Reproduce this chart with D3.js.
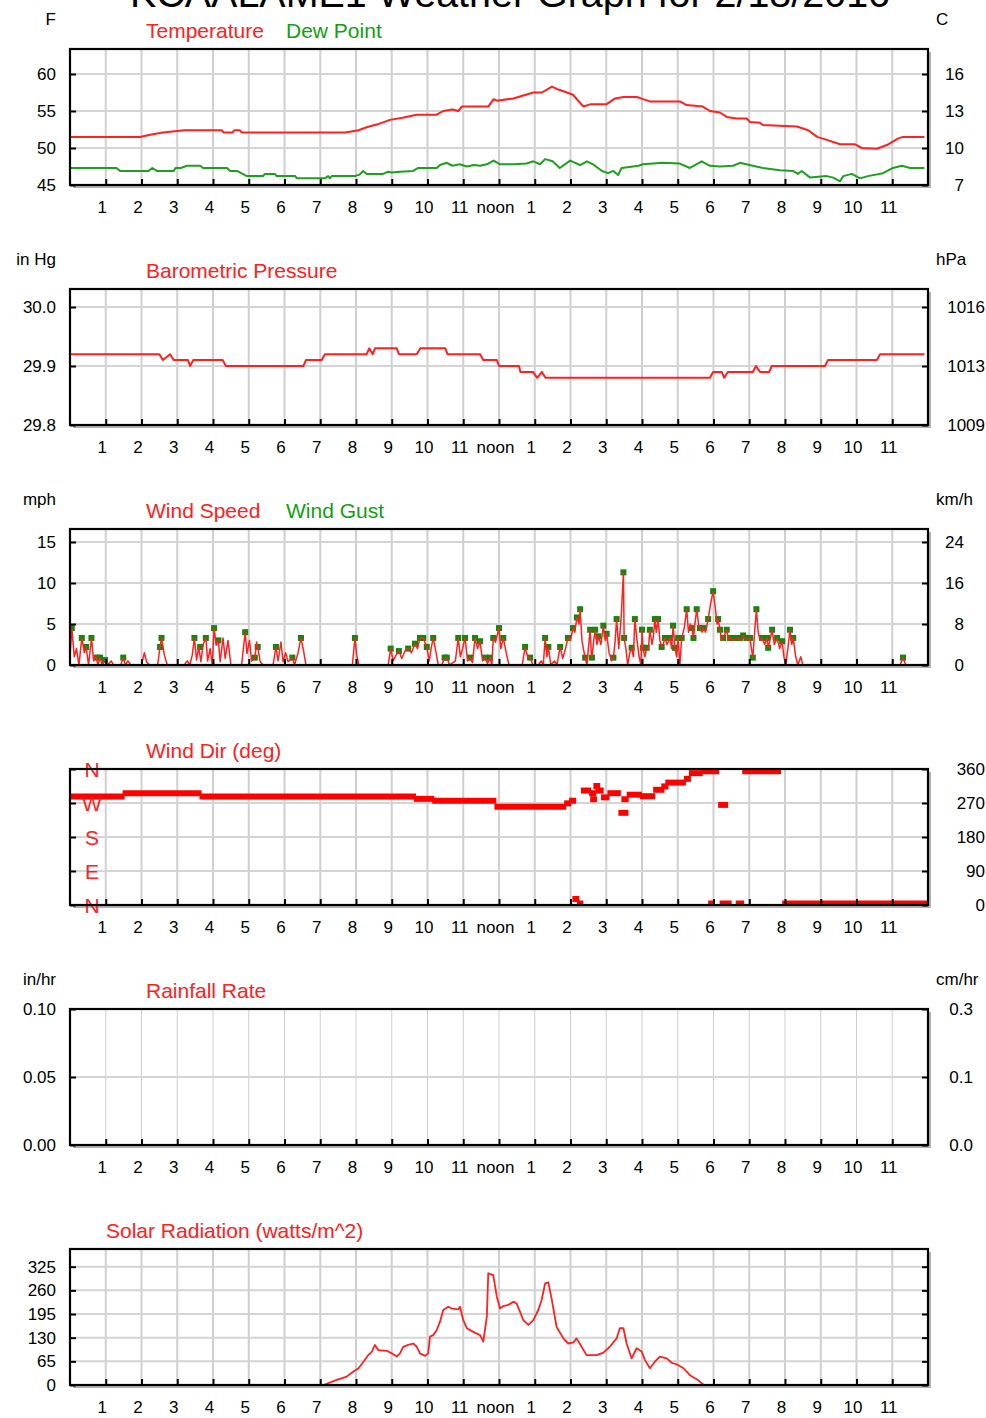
<!DOCTYPE html>
<html>
<head>
<meta charset="utf-8">
<script src="https://cdnjs.cloudflare.com/ajax/libs/d3/7.8.5/d3.min.js"></script>
<style>
body{margin:0;background:#fff}
text{font-family:"Liberation Sans",Arial,sans-serif}
</style>
</head>
<body>
<script>
// hour of day, value pairs
var tempF = [[0,51.5],[1.96,51.5],[2.24,51.8],[2.6,52.1],[3.2,52.4],[4.24,52.4],[4.3,52.1],[4.55,52.1],[4.6,52.4],[4.75,52.4],[4.8,52.1],[7.7,52.1],[8.07,52.4],[8.3,52.8],[8.6,53.2],[8.95,53.8],[9.3,54.1],[9.7,54.5],[10.26,54.5],[10.44,55.0],[10.7,55.2],[10.86,55.0],[10.96,55.6],[11.7,55.6],[11.85,56.6],[11.95,56.4],[12.4,56.7],[12.96,57.5],[13.2,57.5],[13.48,58.3],[13.66,57.9],[13.9,57.5],[14.07,57.2],[14.36,55.6],[14.55,55.9],[15.0,55.9],[15.25,56.7],[15.48,56.9],[15.86,56.9],[16.03,56.6],[16.22,56.3],[17.06,56.3],[17.25,55.8],[17.7,55.6],[17.9,55.0],[18.18,54.8],[18.37,54.2],[18.65,54.0],[18.93,54.0],[19.02,53.5],[19.3,53.4],[19.38,53.1],[20.33,52.9],[20.65,52.4],[20.9,51.5],[21.17,51.1],[21.54,50.5],[21.96,50.5],[22.15,50.0],[22.57,49.9],[22.85,50.4],[23.17,51.3],[23.3,51.5],[23.9,51.5]];

var dewF = [[0,47.3],[1.3,47.3],[1.4,46.9],[2.2,46.9],[2.3,47.3],[2.43,46.9],[2.9,46.9],[2.95,47.3],[3.1,47.3],[3.27,47.6],[3.64,47.6],[3.72,47.3],[4.39,47.3],[4.48,46.9],[4.67,46.9],[4.95,46.2],[5.4,46.2],[5.45,46.5],[5.73,46.5],[5.78,46.2],[6.3,46.2],[6.35,45.9],[7.13,45.9],[7.22,46.2],[7.27,45.9],[7.32,46.2],[7.97,46.2],[8.1,46.4],[8.2,46.9],[8.3,46.5],[8.76,46.5],[8.9,46.8],[9.0,46.7],[9.23,46.8],[9.6,46.9],[9.74,47.3],[10.26,47.3],[10.35,47.7],[10.54,48.0],[10.7,47.6],[10.9,47.8],[11.1,47.5],[11.3,47.7],[11.47,47.6],[11.66,47.8],[11.85,48.3],[12.03,47.8],[12.4,47.8],[12.77,47.9],[12.96,48.2],[13.15,47.8],[13.29,48.5],[13.5,48.2],[13.7,47.3],[13.99,48.3],[14.27,47.7],[14.46,48.2],[14.63,47.8],[14.88,46.9],[15.05,46.6],[15.2,46.9],[15.33,46.35],[15.43,47.3],[15.75,47.5],[15.9,47.6],[16.03,47.8],[16.59,48.0],[17.06,47.9],[17.34,47.3],[17.67,48.2],[17.9,47.6],[18.18,47.5],[18.55,47.6],[18.74,48.0],[19.1,47.6],[19.38,47.3],[19.86,47.0],[20.22,46.9],[20.36,46.5],[20.47,46.9],[20.7,46.0],[21.17,46.2],[21.35,46.0],[21.54,45.5],[21.63,46.2],[21.87,46.5],[22.1,45.9],[22.32,46.2],[22.74,46.6],[23.02,47.3],[23.27,47.6],[23.5,47.3],[23.9,47.3]];

var pressureIn = [[0,29.92],[2.5,29.92],[2.6,29.91],[2.8,29.92],[2.9,29.91],[3.3,29.91],[3.36,29.90],[3.45,29.91],[4.27,29.91],[4.36,29.90],[6.53,29.90],[6.6,29.91],[7.04,29.91],[7.13,29.92],[8.3,29.92],[8.37,29.93],[8.47,29.92],[8.53,29.93],[9.14,29.93],[9.2,29.92],[9.7,29.92],[9.8,29.93],[10.5,29.93],[10.56,29.92],[11.47,29.92],[11.56,29.91],[11.94,29.91],[12.0,29.90],[12.56,29.90],[12.6,29.89],[12.95,29.89],[13.07,29.88],[13.2,29.89],[13.3,29.88],[17.9,29.88],[17.99,29.89],[18.23,29.89],[18.3,29.88],[18.4,29.89],[19.1,29.89],[19.19,29.90],[19.3,29.89],[19.56,29.89],[19.63,29.90],[21.12,29.90],[21.2,29.91],[22.57,29.91],[22.66,29.92],[23.9,29.92]];

var windSpeed = [[0,1.0],[0.05,4.5],[0.12,1.0],[0.18,2.0],[0.25,0],[0.33,3.3],[0.4,1.5],[0.45,2.2],[0.52,0],[0.6,3.3],[0.66,0.5],[0.72,1.2],[0.78,0],[0.84,0.9],[0.9,0],[0.98,0.6],[1.05,0],[1.15,0.5],[1.22,0],
 [1.42,0],[1.49,0.9],[1.55,0],[1.62,0.5],[1.7,0],[2.0,0],[2.08,1.5],[2.14,0.4],[2.22,0],[2.45,0],[2.52,2.2],[2.56,3.3],[2.64,1.2],[2.72,0],
 [3.2,0],[3.28,0.5],[3.35,0],[3.42,1.2],[3.48,3.3],[3.54,0.6],[3.6,2.2],[3.66,0.4],[3.73,2.6],[3.8,3.3],[3.85,0.5],[3.92,2.0],[3.98,0],[4.03,4.5],[4.09,2.4],[4.15,3.0],[4.2,0.4],[4.28,3.3],[4.34,0.8],[4.42,3.0],[4.5,0],
 [4.8,0],[4.9,4.0],[4.95,1.4],[5.02,3.0],[5.08,0.5],[5.17,0.9],[5.22,2.8],[5.25,2.2],[5.32,0.4],[5.4,0],
 [5.68,0],[5.76,2.2],[5.82,0.5],[5.9,2.8],[5.96,0.4],[6.03,1.5],[6.1,0.4],[6.22,0.9],[6.28,0],[6.38,1.5],[6.46,3.3],[6.53,1.8],[6.6,0],
 [7.9,0],[7.97,3.3],[8.02,1.2],[8.08,0],
 [8.9,0],[8.97,2.0],[9.04,0.5],[9.12,1.2],[9.2,1.7],[9.28,0.8],[9.38,1.8],[9.46,2.0],[9.55,1.5],[9.65,2.6],[9.72,2.0],[9.79,3.3],[9.88,3.3],[9.98,2.2],[10.05,0.5],[10.1,2.0],[10.16,3.3],[10.24,1.5],[10.3,0],[10.4,0],[10.48,0.9],[10.54,0.9],[10.62,0],[10.78,0.5],[10.86,3.3],[10.92,1.0],[10.98,2.0],[11.05,3.3],[11.12,0.5],[11.19,0.9],[11.26,0.3],[11.33,3.3],[11.4,2.0],[11.47,2.9],[11.54,0.5],[11.61,0.9],[11.68,0.2],[11.75,0.9],[11.8,0],[11.84,3.3],[11.9,2.8],[12.0,4.5],[12.05,2.0],[12.12,3.3],[12.2,1.5],[12.28,0],
 [12.65,0],[12.73,2.2],[12.8,1.0],[12.87,0.9],[12.95,0],[13.1,0],[13.18,0.5],[13.24,0],[13.29,3.3],[13.34,1.0],[13.38,2.2],[13.45,0],[13.55,0.5],[13.62,0],[13.71,2.2],[13.78,0.8],[13.86,2.0],[13.93,3.3],[14.0,3.0],[14.07,4.5],[14.12,4.0],[14.18,5.8],[14.24,5.0],[14.27,6.8],[14.32,3.0],[14.36,2.0],[14.41,0.9],[14.46,0],[14.5,2.0],[14.55,4.3],[14.58,1.5],[14.6,0.9],[14.65,3.0],[14.69,4.3],[14.74,2.5],[14.78,3.5],[14.85,2.5],[14.92,4.8],[14.97,3.0],[15.01,3.8],[15.08,1.5],[15.15,0.5],[15.2,0.9],[15.25,3.0],[15.29,5.6],[15.35,2.0],[15.42,6.0],[15.48,11.3],[15.5,3.3],[15.55,2.0],[15.6,0],[15.66,1.5],[15.71,2.1],[15.76,1.0],[15.8,5.6],[15.86,3.0],[15.92,1.0],[15.97,0],[16.0,4.3],[16.03,2.1],[16.08,1.0],[16.13,2.1],[16.18,2.0],[16.22,4.3],[16.28,2.5],[16.32,3.5],[16.36,5.6],[16.4,4.0],[16.45,5.6],[16.5,3.0],[16.55,2.2],[16.6,2.6],[16.64,3.3],[16.7,2.5],[16.78,3.3],[16.83,2.0],[16.87,4.8],[16.92,2.1],[16.97,1.0],[17.01,3.3],[17.06,0],[17.11,3.3],[17.18,4.5],[17.25,6.8],[17.3,4.0],[17.35,5.0],[17.4,4.5],[17.44,3.3],[17.48,5.0],[17.53,6.8],[17.58,5.0],[17.62,4.5],[17.68,4.0],[17.71,4.5],[17.78,4.0],[17.85,5.6],[17.92,7.5],[17.99,9.0],[18.05,7.0],[18.1,5.0],[18.13,5.6],[18.18,4.3],[18.23,3.0],[18.27,3.3],[18.32,3.8],[18.37,4.3],[18.42,3.0],[18.46,3.3],[18.55,3.0],[18.65,3.3],[18.75,3.0],[18.83,3.6],[18.92,3.0],[19.02,3.3],[19.06,2.0],[19.1,0.9],[19.15,4.0],[19.2,6.8],[19.25,4.0],[19.3,3.0],[19.36,3.3],[19.43,2.5],[19.5,3.3],[19.53,2.1],[19.58,3.0],[19.64,4.3],[19.7,2.5],[19.78,3.3],[19.85,2.0],[19.92,2.9],[19.97,1.0],[20.02,0],[20.08,2.0],[20.14,4.3],[20.19,2.5],[20.23,3.3],[20.3,1.0],[20.36,0],[20.44,1.0],[20.5,0],
 [23.22,0],[23.3,0.9],[23.38,0],[24,0]];

var windGust = [[0.05,4.5],[0.33,3.3],[0.45,2.2],[0.6,3.3],[0.75,0.9],[0.84,0.9],[0.98,0.6],[1.49,0.9],[2.52,2.2],[2.56,3.3],[3.48,3.3],[3.64,2.2],[3.8,3.3],[4.03,4.5],[4.15,3.0],[4.9,4.0],[5.17,0.9],[5.25,2.2],[5.76,2.2],[6.22,0.9],[6.46,3.3],[7.97,3.3],[8.97,2.0],[9.2,1.7],[9.46,2.0],[9.65,2.6],[9.79,3.3],[9.88,3.3],[9.98,2.2],[10.16,3.3],[10.48,0.9],[10.54,0.9],[10.86,3.3],[11.05,3.3],[11.19,0.9],[11.33,3.3],[11.47,2.9],[11.61,0.9],[11.75,0.9],[11.84,3.3],[12.0,4.5],[12.12,3.3],[12.73,2.2],[12.87,0.9],[13.29,3.3],[13.38,2.2],[13.71,2.2],[13.93,3.3],[14.07,4.5],[14.18,5.8],[14.27,6.8],[14.41,0.9],[14.55,4.3],[14.6,0.9],[14.69,4.3],[14.78,3.5],[14.92,4.8],[15.01,3.8],[15.2,0.9],[15.29,5.6],[15.48,11.3],[15.5,3.3],[15.71,2.1],[15.8,5.6],[16.0,4.3],[16.03,2.1],[16.13,2.1],[16.22,4.3],[16.36,5.6],[16.45,5.6],[16.55,2.2],[16.64,3.3],[16.78,3.3],[16.87,4.8],[16.92,2.1],[17.01,3.3],[17.11,3.3],[17.25,6.8],[17.4,4.5],[17.44,3.3],[17.53,6.8],[17.62,4.5],[17.71,4.5],[17.85,5.6],[17.99,9.0],[18.13,5.6],[18.18,4.3],[18.27,3.3],[18.37,4.3],[18.46,3.3],[18.55,3.3],[18.65,3.3],[18.74,3.3],[18.83,3.6],[18.92,3.3],[19.02,3.3],[19.1,0.9],[19.2,6.8],[19.36,3.3],[19.5,3.3],[19.53,2.1],[19.64,4.3],[19.78,3.3],[19.92,2.9],[20.14,4.3],[20.23,3.3],[23.3,0.9]];

// wind direction runs: start hour, end hour, degrees
var windDir = [[0,1.5,287],[1.5,3.65,296],[3.65,9.65,287],[9.65,10.16,281],[10.16,11.9,276],[11.9,13.85,260],[13.85,13.99,269],[13.99,14.13,276],[14.08,14.22,16],[14.22,14.32,4],[14.32,14.55,303],[14.55,14.69,296],[14.6,14.69,280],[14.69,14.78,315],[14.73,14.9,303],[14.88,15.06,285],[15.06,15.38,296],[15.48,15.48,244],[15.45,15.6,280],[15.6,15.97,292],[15.97,16.34,288],[16.34,16.6,305],[16.6,16.68,314],[16.68,17.2,324],[17.2,17.34,334],[17.34,17.67,349],[17.67,18.13,354],[17.9,17.99,4],[18.2,18.48,4],[18.27,18.27,265],[18.65,18.83,4],[18.83,19.86,354],[19.95,23.98,4]];

var rainRate = [[0,0],[24,0]];

var solar = [[0,0],[7.09,0],[7.46,14],[7.74,23],[7.93,37],[8.07,46],[8.21,64],[8.34,82],[8.44,91],[8.53,110],[8.62,96],[8.86,94],[9.0,87],[9.14,78],[9.23,87],[9.32,105],[9.46,110],[9.6,114],[9.7,105],[9.79,87],[9.93,80],[10.02,87],[10.07,133],[10.16,137],[10.26,151],[10.35,174],[10.44,206],[10.58,215],[10.68,210],[10.86,208],[10.91,215],[11.0,178],[11.1,156],[11.28,146],[11.47,137],[11.56,119],[11.66,188],[11.7,307],[11.84,302],[11.94,242],[12.03,210],[12.12,217],[12.26,220],[12.4,229],[12.49,224],[12.59,201],[12.68,178],[12.82,165],[12.96,178],[13.1,206],[13.19,233],[13.29,279],[13.38,282],[13.47,238],[13.61,160],[13.8,128],[13.94,114],[14.08,117],[14.17,128],[14.31,105],[14.45,82],[14.73,82],[14.92,89],[15.1,105],[15.29,128],[15.38,156],[15.48,156],[15.57,114],[15.71,73],[15.85,101],[15.99,92],[16.08,69],[16.22,46],[16.36,64],[16.5,78],[16.69,73],[16.83,61],[16.97,57],[17.16,46],[17.34,27],[17.53,16],[17.73,0]];

var hourTicks = [1,2,3,4,5,6,7,8,9,10,11,12,13,14,15,16,17,18,19,20,21,22,23];
var hourLabels = ['1','2','3','4','5','6','7','8','9','10','11','noon','1','2','3','4','5','6','7','8','9','10','11'];

var tempTicks = [45,50,55,60];
var pressTicks = [29.8,29.9,30.0];
var windTicks = [0,5,10,15];
var dirTicks = [0,90,180,270,360];
var dirLetters = ['N','E','S','W','N'];
var rainTicks = [0,0.05,0.10];
var solarTicks = [0,65,130,195,260,325];

var RED = '#ff2020', GREEN = '#1f9f1f';
var PLOT_L = 70, PLOT_R = 928, PLOT_H = 136;

var svg = d3.select('body').append('svg')
	.attr('width',986)
	.attr('height',1418);

var x = d3.scaleLinear().domain([0,24]).range([PLOT_L,PLOT_R]);

// the title sits mostly above the top edge, as in the original
svg.append('text')
	.attr('x',510).attr('y',7)
	.attr('text-anchor','middle')
	.attr('font-size',38)
	.attr('textLength',760)
	.attr('lengthAdjust','spacingAndGlyphs')
	.text('KCAALAME1 Weather Graph for 2/18/2016');

var styleAxis = function(g,size){
	g.attr('font-family','"Liberation Sans",Arial,sans-serif').attr('font-size',size);
	g.select('.domain').remove();
	g.selectAll('.tick line').attr('stroke','#000').attr('stroke-width',2);
	g.selectAll('.tick text').attr('fill','#000');
}

var drawPanel = function(p){
	var top = p.top, bottom = p.top + PLOT_H;
	var y = d3.scaleLinear()
		.domain([p.ticks[0], p.ticks[p.ticks.length-1]])
		.range([bottom, top + p.tickTop]);
	var g = svg.append('g');

	g.append('rect').attr('x',PLOT_L+3).attr('y',top+3)
		.attr('width',PLOT_R-PLOT_L).attr('height',PLOT_H).attr('fill','#b4b4b4');
	g.append('rect').attr('x',PLOT_L).attr('y',top)
		.attr('width',PLOT_R-PLOT_L).attr('height',PLOT_H).attr('fill','#fff');

	g.selectAll('.vgrid').data(hourTicks).enter().append('line')
		.attr('x1',function(d){return x(d)}).attr('x2',function(d){return x(d)})
		.attr('y1',top).attr('y2',bottom)
		.attr('stroke','#cfcfcf').attr('stroke-width',p.gridW);
	g.selectAll('.hgrid').data(p.ticks.filter(function(d){return y(d) > top+2 && y(d) < bottom-2})).enter().append('line')
		.attr('x1',PLOT_L).attr('x2',PLOT_R)
		.attr('y1',function(d){return y(d)}).attr('y2',function(d){return y(d)})
		.attr('stroke','#d4d4d4').attr('stroke-width',2);

	var clipId = 'clip' + top;
	g.append('clipPath').attr('id',clipId).append('rect')
		.attr('x',PLOT_L).attr('y',top).attr('width',PLOT_R-PLOT_L).attr('height',PLOT_H);
	var marks = g.append('g').attr('clip-path','url(#'+clipId+')');
	p.draw(marks,y);

	if (p.letters) {
		g.append('g').attr('transform','translate(' + PLOT_L + ',0)')
			.call(d3.axisLeft(y).tickValues(p.ticks).tickSize(0)
				.tickFormat(function(d,i){return p.letters[i]}))
			.call(function(a){
				a.select('.domain').remove();
				a.selectAll('text').attr('x',22).attr('text-anchor','middle')
					.attr('fill',RED).attr('font-size',21).attr('dy','0.36em')
					.attr('font-family','"Liberation Sans",Arial,sans-serif');
			});
	}

	g.append('rect').attr('x',PLOT_L).attr('y',top)
		.attr('width',PLOT_R-PLOT_L).attr('height',PLOT_H)
		.attr('fill','none').attr('stroke','#000').attr('stroke-width',2.2);

	g.append('g').attr('transform','translate(0,' + bottom + ')')
		.call(d3.axisBottom(x).tickValues(hourTicks).tickSize(-6).tickPadding(16)
			.tickFormat(function(d,i){return hourLabels[i]}))
		.call(function(a){ styleAxis(a,17); a.selectAll('.tick text').attr('x',-4); });

	g.append('g').attr('transform','translate(' + PLOT_L + ',0)')
		.call(d3.axisLeft(y).tickValues(p.ticks).tickSize(-6).tickPadding(14)
			.tickFormat(p.leftFmt || function(){return ''}))
		.call(function(a){ styleAxis(a,17); });

	g.append('g').attr('transform','translate(' + PLOT_R + ',0)')
		.call(d3.axisRight(y).tickValues(p.ticks).tickSize(-6)
			.tickFormat(p.rightFmt || function(){return ''}))
		.call(function(a){
			styleAxis(a,17);
			a.selectAll('.tick text').attr('text-anchor','end').attr('x',p.rightX - PLOT_R);
		});

	if (p.leftUnit) g.append('text').attr('x',56).attr('y',top-24)
		.attr('text-anchor','end').attr('font-size',17).text(p.leftUnit);
	if (p.rightUnit) g.append('text').attr('x',936).attr('y',top-24)
		.attr('font-size',17).text(p.rightUnit);

	p.legend.forEach(function(l){
		g.append('text').attr('x',l.x).attr('y',top-11)
			.attr('font-size',21).attr('fill',l.color).text(l.text);
	});
}

var lineOf = function(y){
	return d3.line().x(function(d){return x(d[0])}).y(function(d){return y(d[1])});
}

var pathLine = function(g,data,y,color,w){
	g.append('path').datum(data).attr('d',lineOf(y))
		.attr('fill','none').attr('stroke',color).attr('stroke-width',w)
		.attr('stroke-linejoin','round');
}

window.onload = function(){
	drawPanel({
		top:49, tickTop:25, ticks:tempTicks, gridW:2,
		leftFmt:d3.format('d'),
		rightFmt:function(d){return Math.round((d-32)*5/9)},
		rightX:964, leftUnit:'F', rightUnit:'C',
		legend:[{text:'Temperature',color:RED,x:146},{text:'Dew Point',color:'#109f10',x:286}],
		draw:function(g,y){
			pathLine(g,dewF,y,GREEN,2);
			pathLine(g,tempF,y,RED,2);
		}
	});

	drawPanel({
		top:289, tickTop:18, ticks:pressTicks, gridW:2,
		leftFmt:d3.format('.1f'),
		rightFmt:function(d){return Math.round(d*33.8639)},
		rightX:985, leftUnit:'in Hg', rightUnit:'hPa',
		legend:[{text:'Barometric Pressure',color:RED,x:146}],
		draw:function(g,y){ pathLine(g,pressureIn,y,RED,2); }
	});

	drawPanel({
		top:529, tickTop:13, ticks:windTicks, gridW:2,
		leftFmt:d3.format('d'),
		rightFmt:function(d){return Math.round(d*1.609)},
		rightX:964, leftUnit:'mph', rightUnit:'km/h',
		legend:[{text:'Wind Speed',color:RED,x:146},{text:'Wind Gust',color:'#109f10',x:286}],
		draw:function(g,y){
			g.selectAll('.gust').data(windGust).enter().append('rect')
				.attr('x',function(d){return x(d[0])-3}).attr('y',function(d){return y(d[1])-3})
				.attr('width',6).attr('height',6).attr('fill','#0b8a0b');
			pathLine(g,windSpeed,y,RED,1.5);
		}
	});

	drawPanel({
		top:769, tickTop:0, ticks:dirTicks, gridW:2,
		letters:dirLetters,
		rightFmt:d3.format('d'),
		rightX:985,
		legend:[{text:'Wind Dir (deg)',color:RED,x:146}],
		draw:function(g,y){
			g.selectAll('.dir').data(windDir).enter().append('line')
				.attr('x1',function(d){return x(d[0])+2}).attr('x2',function(d){return x(d[1])-2})
				.attr('y1',function(d){return y(d[2])}).attr('y2',function(d){return y(d[2])})
				.attr('stroke','#ff0000').attr('stroke-width',6).attr('stroke-linecap','square');
		}
	});

	drawPanel({
		top:1009, tickTop:0, ticks:rainTicks, gridW:1,
		leftFmt:d3.format('.2f'),
		rightFmt:function(d){return (d*2.54).toFixed(1)},
		rightX:973, leftUnit:'in/hr', rightUnit:'cm/hr',
		legend:[{text:'Rainfall Rate',color:RED,x:146}],
		draw:function(g,y){ pathLine(g,rainRate,y,RED,2); }
	});

	drawPanel({
		top:1249, tickTop:17.7, ticks:solarTicks, gridW:2,
		leftFmt:d3.format('d'),
		rightX:964,
		legend:[{text:'Solar Radiation (watts/m^2)',color:RED,x:106}],
		draw:function(g,y){ pathLine(g,solar,y,RED,1.8); }
	});
}
</script>
</body>
</html>
